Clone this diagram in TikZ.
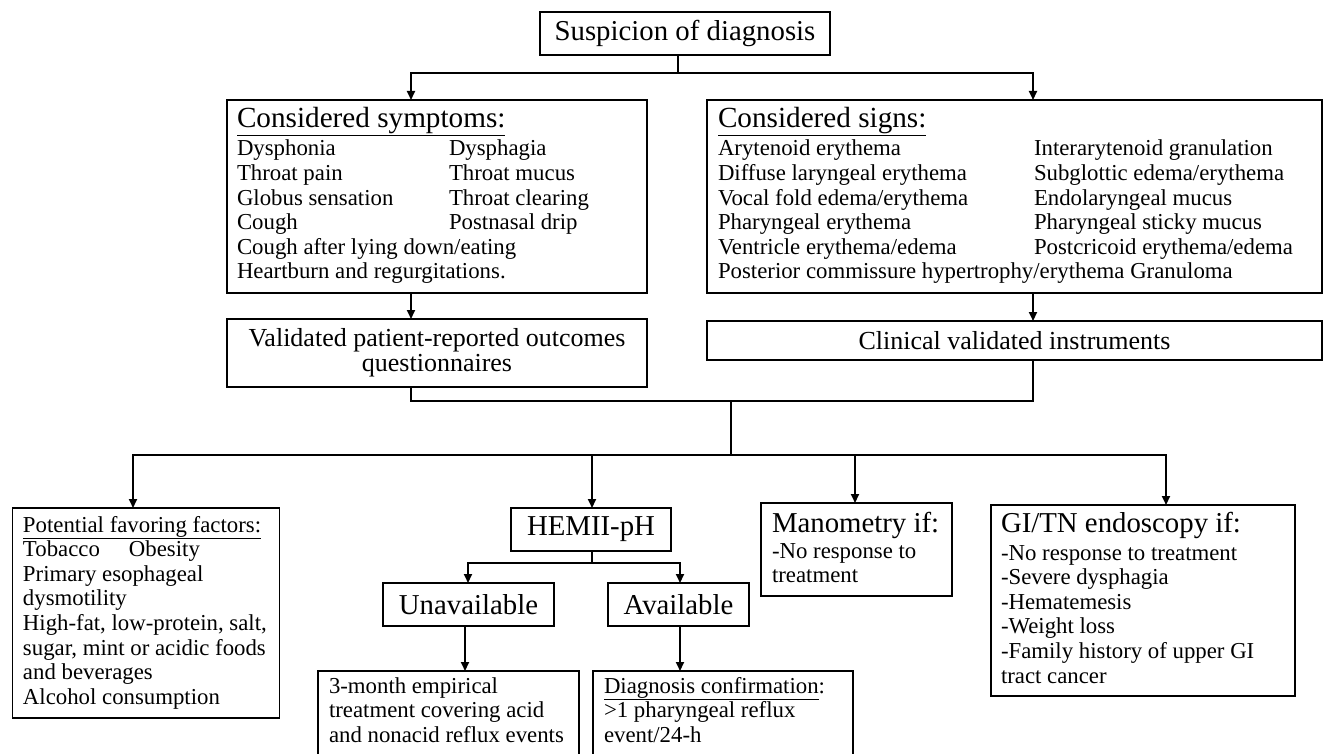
\documentclass[tikz,border=0pt]{standalone}
\usepackage{fontspec}
\setmainfont{Liberation Serif}
\usetikzlibrary{arrows.meta}
\newcommand\fBody{\fontsize{22.8}{24.6}\selectfont}
\newcommand\fBig{\fontsize{28.8}{30}\selectfont}
\newcommand\fMid{\fontsize{26}{25}\selectfont}
\newcommand\fHead{\fontsize{29.2}{30}\selectfont}
\begin{document}
\begin{tikzpicture}[x=1pt,y=-1pt,
  box/.style={draw=black, line width=1.3pt, inner sep=0pt, outer sep=0pt, anchor=north west},
  txt/.style={inner sep=0pt, outer sep=0pt, anchor=base west, font=\fBody},
  conn/.style={line width=2pt},
  arr/.style={conn, -{Triangle[length=9pt,width=8pt]}}]
\useasboundingbox (0,0) rectangle (1328,754);
\fill[white] (0,0) rectangle (1328,754);

% ---------- boxes ----------
\node[box, minimum width=290pt, minimum height=43pt, font=\fBig] (susp) at (540,12) {Suspicion of diagnosis};

\node[box, minimum width=420pt, minimum height=193pt] (symp) at (227,100) {};
\node[txt, font=\fHead] (symph) at (237,128) {\underline{Considered symptoms:}};
\node[txt] (sympa) at (237,156) {\begin{tabular}[t]{@{}l@{}}Dysphonia\\Throat pain\\Globus sensation\\Cough\\Cough after lying down/eating\\Heartburn and regurgitations.\end{tabular}};
\node[txt] (sympb) at (449,156) {\begin{tabular}[t]{@{}l@{}}Dysphagia\\Throat mucus\\Throat clearing\\Postnasal drip\end{tabular}};

\node[box, minimum width=420pt, minimum height=68pt, font=\fMid, align=center] (valid) at (227,319) {Validated patient-reported outcomes\\questionnaires};

\node[box, minimum width=615pt, minimum height=193pt] (signs) at (707,100) {};
\node[txt, font=\fHead] (signsh) at (718,128) {\underline{Considered signs:}};
\node[txt] (signsa) at (718,156) {\begin{tabular}[t]{@{}l@{}}Arytenoid erythema\\Diffuse laryngeal erythema\\Vocal fold edema/erythema\\Pharyngeal erythema\\Ventricle erythema/edema\\Posterior commissure hypertrophy/erythema Granuloma\end{tabular}};
\node[txt] (signsb) at (1034,156) {\begin{tabular}[t]{@{}l@{}}Interarytenoid granulation\\Subglottic edema/erythema\\Endolaryngeal mucus\\Pharyngeal sticky mucus\\Postcricoid erythema/edema\end{tabular}};

\node[box, minimum width=615pt, minimum height=39pt, font=\fMid] (clin) at (707,321) {Clinical validated instruments};

\node[box, minimum width=267pt, minimum height=210pt] (pot) at (12.5,508) {};
\node[txt] (pota) at (23,532) {\begin{tabular}[t]{@{}l@{}}\underline{Potential favoring factors:}\\\makebox[106pt][l]{Tobacco}Obesity\\Primary esophageal\\dysmotility\\High-fat, low-protein, salt,\\sugar, mint or acidic foods\\and beverages\\Alcohol consumption\end{tabular}};

\node[box, minimum width=160pt, minimum height=43pt, font=\fBig] (hemii) at (511,508) {HEMII-pH};
\node[box, minimum width=171pt, minimum height=43pt, font=\fBig] (unav) at (383,583) {Unavailable};
\node[box, minimum width=141pt, minimum height=43pt, font=\fBig] (avail) at (608,583) {Available};

\node[box, minimum width=261pt, minimum height=100pt] (month) at (318,671) {};
\node[txt] (montha) at (329,693) {\begin{tabular}[t]{@{}l@{}}3-month empirical\\treatment covering acid\\and nonacid reflux events\end{tabular}};

\node[box, minimum width=260pt, minimum height=100pt] (diag) at (593,671) {};
\node[txt] (diaga) at (604,693) {\begin{tabular}[t]{@{}l@{}}\underline{Diagnosis confirmation}:\\>1 pharyngeal reflux\\event/24-h\end{tabular}};

\node[box, minimum width=191pt, minimum height=93pt] (mano) at (761,503) {};
\node[txt, font=\fBig] (manoh) at (772,532) {Manometry if:};
\node[txt] (manoa) at (772,558) {\begin{tabular}[t]{@{}l@{}}-No response to\\treatment\end{tabular}};

\node[box, minimum width=304pt, minimum height=191pt] (gi) at (991,505) {};
\node[txt, font=\fBig] (gih) at (1001,532) {GI/TN endoscopy if:};
\node[txt] (gia) at (1001,560) {\begin{tabular}[t]{@{}l@{}}-No response to treatment\\-Severe dysphagia\\-Hematemesis\\-Weight loss\\-Family history of upper GI\\tract cancer\end{tabular}};

% ---------- guide coordinates ----------
\coordinate (xS) at (678,0);
\coordinate (xA) at (411,0);
\coordinate (xB) at (1033,0);
\coordinate (xM) at (731,0);
\coordinate (xP) at (133,0);
\coordinate (xH) at (592,0);
\coordinate (xN) at (855,0);
\coordinate (xG) at (1166,0);
\coordinate (xU) at (468,0);
\coordinate (xU2) at (465,0);
\coordinate (xV) at (680,0);
\coordinate (y1) at (0,73);
\coordinate (y2) at (0,401);
\coordinate (y3) at (0,455);
\coordinate (y4) at (0,563);

% ---------- connectors ----------
\draw[conn] (xS |- susp.south) -- (xS |- y1);
\draw[arr] (xS |- y1) -| (xA |- symp.north);
\draw[arr] (xS |- y1) -| (xB |- signs.north);
\draw[arr] (xA |- symp.south) -- (xA |- valid.north);
\draw[arr] (xB |- signs.south) -- (xB |- clin.north);
\draw[conn] (xA |- valid.south) -- (xA |- y2) -- (xB |- y2) -- (xB |- clin.south);
\draw[conn] (xM |- y2) -- (xM |- y3);
\draw[arr] (xM |- y3) -| (xP |- pot.north);
\draw[arr] (xM |- y3) -| (xG |- gi.north);
\draw[arr] (xH |- y3) -- (xH |- hemii.north);
\draw[arr] (xN |- y3) -- (xN |- mano.north);
\draw[conn] (xH |- hemii.south) -- (xH |- y4);
\draw[arr] (xH |- y4) -| (xU |- unav.north);
\draw[arr] (xH |- y4) -| (xV |- avail.north);
\draw[arr] (xU2 |- unav.south) -- (xU2 |- month.north);
\draw[arr] (xV |- avail.south) -- (xV |- diag.north);
\end{tikzpicture}
\end{document}
